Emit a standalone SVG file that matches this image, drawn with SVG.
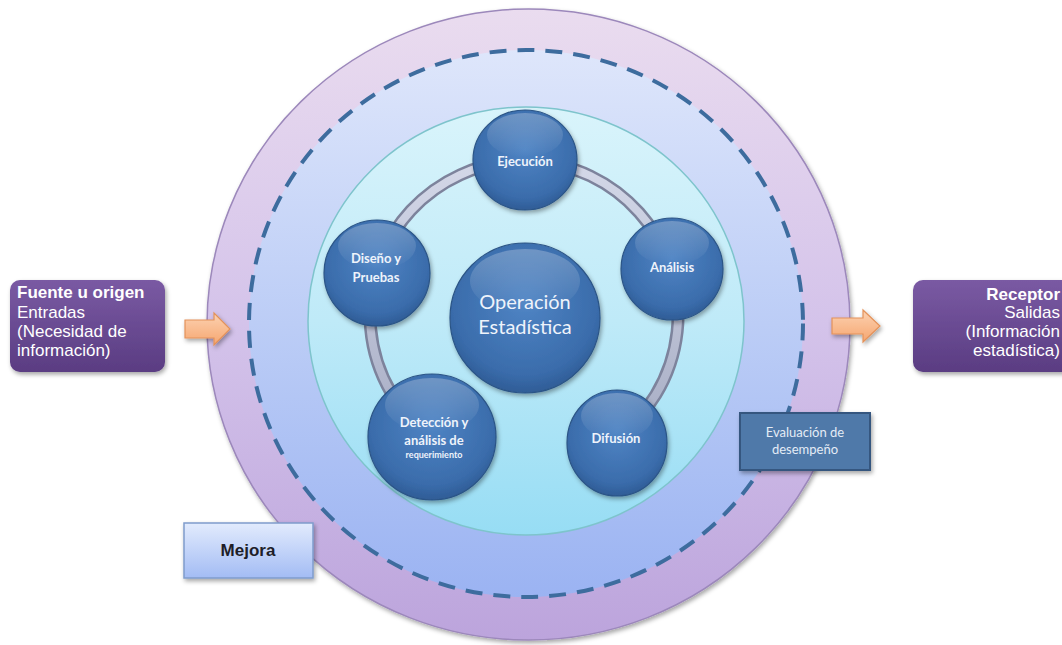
<svg xmlns="http://www.w3.org/2000/svg" width="1062" height="645" viewBox="0 0 1062 645">
<defs>
<style>
.box-t{font-family:"Liberation Sans",Arial,sans-serif;font-size:17px;fill:#ffffff}
.b{font-weight:bold}
.node-t{font-family:Lato,"Open Sans",sans-serif;fill:#eef3fb;text-anchor:middle;font-size:13px;font-weight:bold}
.node{fill:url(#nodeGrad);stroke:#2b5486;stroke-width:1.2;filter:url(#sh)}
.hl{fill:url(#hlGrad)}
.arrow{fill:url(#arrGrad);stroke:#e3925a;stroke-width:1.2;filter:url(#sh)}
</style>
<linearGradient id="outerGrad" x1="0" y1="0" x2="0" y2="1">
<stop offset="0" stop-color="#eadcef"/>
<stop offset="0.5" stop-color="#d4c3ea"/>
<stop offset="1" stop-color="#bca4dc"/>
</linearGradient>
<linearGradient id="midGrad" x1="0" y1="0" x2="0" y2="1">
<stop offset="0" stop-color="#dee6fb"/>
<stop offset="0.5" stop-color="#bccdf6"/>
<stop offset="1" stop-color="#9bb3f2"/>
</linearGradient>
<linearGradient id="innerGrad" x1="0" y1="0" x2="0" y2="1">
<stop offset="0" stop-color="#d9f4fb"/>
<stop offset="0.5" stop-color="#bfeaf8"/>
<stop offset="1" stop-color="#97ddf4"/>
</linearGradient>
<radialGradient id="nodeGrad" cx="0.5" cy="0.4" r="0.6">
<stop offset="0" stop-color="#4f84c4"/>
<stop offset="0.8" stop-color="#3a6cab"/>
<stop offset="1" stop-color="#2f5c96"/>
</radialGradient>
<linearGradient id="hlGrad" x1="0" y1="0" x2="0" y2="1">
<stop offset="0" stop-color="#ffffff" stop-opacity="0.25"/>
<stop offset="1" stop-color="#ffffff" stop-opacity="0"/>
</linearGradient>
<linearGradient id="purpleGrad" x1="0" y1="0" x2="0" y2="1">
<stop offset="0" stop-color="#7a5aa3"/>
<stop offset="1" stop-color="#5a3c82"/>
</linearGradient>
<linearGradient id="arrGrad" x1="0" y1="0" x2="0" y2="1">
<stop offset="0" stop-color="#fcd2b2"/>
<stop offset="1" stop-color="#f6a670"/>
</linearGradient>
<linearGradient id="mejGrad" x1="0" y1="0" x2="0" y2="1">
<stop offset="0" stop-color="#e2ebfd"/>
<stop offset="1" stop-color="#a3bcf4"/>
</linearGradient>
<linearGradient id="ringGrad" x1="0" y1="0" x2="0" y2="1">
<stop offset="0" stop-color="#d4d8e8"/>
<stop offset="1" stop-color="#a7adc4"/>
</linearGradient>
<filter id="sh" x="-20%" y="-20%" width="140%" height="140%">
<feDropShadow dx="1.5" dy="2.5" stdDeviation="2" flood-color="#000" flood-opacity="0.35"/>
</filter>
</defs>
<rect width="1062" height="645" fill="#ffffff"/>

<g id="background-rings">
<ellipse cx="528.5" cy="324.5" rx="321.5" ry="315.5" fill="url(#outerGrad)" stroke="#9c88bb" stroke-width="1.5" filter="url(#sh)"/>
<ellipse cx="526" cy="323.5" rx="277" ry="273.5" fill="url(#midGrad)"/>
<ellipse cx="526" cy="323.5" rx="277" ry="273.5" fill="none" stroke="#3d6c9e" stroke-width="4" stroke-dasharray="17 11"/>
<ellipse cx="526" cy="321" rx="218" ry="214" fill="url(#innerGrad)" stroke="#7ec4cc" stroke-width="1.5"/>
</g>

<g id="connectors">
<path d="M431.3,437.9 A154,154 0 1 1 614.5,439.6" fill="none" stroke="#7d839c" stroke-width="13"/>
<path d="M431.3,437.9 A154,154 0 1 1 614.5,439.6" fill="none" stroke="url(#ringGrad)" stroke-width="8"/>
<path class="arrow" d="M185,320 H214 V313 L230,329 L214,345 V338 H185 Z"/>
<path class="arrow" d="M832,318 H863 V310 L880,326 L863,342 V334 H832 Z"/>
</g>

<g id="node-fuente">
<rect x="10" y="280" width="155" height="92" rx="10" fill="url(#purpleGrad)" filter="url(#sh)"/>
<text class="box-t b" x="17" y="298">Fuente u origen</text>
<text class="box-t" x="17" y="318">Entradas</text>
<text class="box-t" x="17" y="337">(Necesidad de</text>
<text class="box-t" x="17" y="356">información)</text>
</g>

<g id="node-receptor">
<rect x="913" y="280" width="170" height="92" rx="10" fill="url(#purpleGrad)" filter="url(#sh)"/>
<text class="box-t b" x="1060" y="300" text-anchor="end">Receptor</text>
<text class="box-t" x="1060" y="318" text-anchor="end">Salidas</text>
<text class="box-t" x="1060" y="337" text-anchor="end">(Información</text>
<text class="box-t" x="1060" y="356" text-anchor="end">estadística)</text>
</g>

<g id="node-ejecucion">
<ellipse class="node" cx="525" cy="160" rx="52" ry="50"/>
<ellipse class="hl" cx="525" cy="135" rx="38" ry="22"/>
<text class="node-t" x="525" y="166">Ejecución</text>
</g>

<g id="node-diseno">
<ellipse class="node" cx="377" cy="273" rx="53" ry="53"/>
<ellipse class="hl" cx="377" cy="246" rx="39" ry="23"/>
<text class="node-t" x="376" y="263">Diseño y</text>
<text class="node-t" x="376" y="282">Pruebas</text>
</g>

<g id="node-analisis">
<ellipse class="node" cx="672" cy="269" rx="51" ry="51"/>
<ellipse class="hl" cx="672" cy="243" rx="37" ry="22"/>
<text class="node-t" x="672" y="272">Análisis</text>
</g>

<g id="node-operacion">
<ellipse class="node" cx="525" cy="318" rx="75" ry="75"/>
<ellipse class="hl" cx="525" cy="281" rx="55" ry="32"/>
<text class="node-t" x="525" y="309" style="font-size:20px;font-weight:normal">Operación</text>
<text class="node-t" x="525" y="334" style="font-size:20px;font-weight:normal">Estadística</text>
</g>

<g id="node-deteccion">
<ellipse class="node" cx="432" cy="437" rx="64" ry="63"/>
<ellipse class="hl" cx="432" cy="405" rx="47" ry="27"/>
<text class="node-t" x="434" y="427">Detección y</text>
<text class="node-t" x="434" y="445">análisis de</text>
<text class="node-t" x="434" y="458" style="font-size:9px">requerimiento</text>
</g>

<g id="node-difusion">
<ellipse class="node" cx="617" cy="443" rx="50" ry="53"/>
<ellipse class="hl" cx="617" cy="416" rx="36" ry="23"/>
<text class="node-t" x="616" y="443">Difusión</text>
</g>

<g id="node-evaluacion">
<rect x="740" y="413" width="130" height="57" fill="#5079a9" stroke="#34577f" stroke-width="2" filter="url(#sh)"/>
<text class="node-t" x="805" y="437" style="font-size:13px;font-weight:normal;fill:#e4ecf6">Evaluación de</text>
<text class="node-t" x="805" y="454" style="font-size:13px;font-weight:normal;fill:#e4ecf6">desempeño</text>
</g>

<g id="node-mejora">
<rect x="184" y="523" width="129" height="55" fill="url(#mejGrad)" stroke="#7f9ccc" stroke-width="1.5" filter="url(#sh)"/>
<text x="248" y="556" text-anchor="middle" style="font-family:'Liberation Sans',Arial,sans-serif;font-size:17px;font-weight:bold;fill:#1e1e28">Mejora</text>
</g>
</svg>
